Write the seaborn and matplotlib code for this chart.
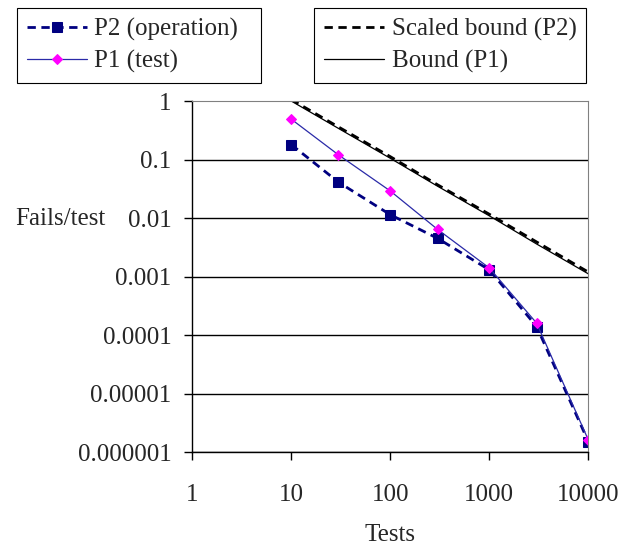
import matplotlib
matplotlib.use("Agg")
import matplotlib.pyplot as plt
import seaborn as sns
import pandas as pd
from matplotlib.ticker import FixedLocator, NullLocator

# values
tests = [10, 30, 100, 300, 1000, 3000, 10000]
p2_operation = [0.18, 0.041, 0.0114, 0.0045, 0.0013, 0.00014, 0.0000015]
p1_test = [0.49, 0.12, 0.029, 0.0064, 0.0014, 0.00016, 0.0000016]
scaled_bound_p2 = [1.06, 0.36, 0.112, 0.037, 0.0116, 0.0039, 0.00119]
bound_p1 = [1.0, 0.34, 0.105, 0.035, 0.0109, 0.0036, 0.00111]

x_ticks = [1, 10, 100, 1000, 10000]
x_labels = ["1", "10", "100", "1000", "10000"]
y_ticks = [1, 0.1, 0.01, 0.001, 0.0001, 0.00001, 0.000001]
y_labels = ["1", "0.1", "0.01", "0.001", "0.0001", "0.00001", "0.000001"]

sns.set_style("white")
plt.rcParams['font.family'] = ['Liberation Serif', 'DejaVu Serif']
plt.rcParams['font.size'] = 18
FS = 18

df = pd.DataFrame({
    "Tests": tests,
    "P2": p2_operation,
    "P1": p1_test,
    "SB": scaled_bound_p2,
    "B": bound_p1,
})

fig = plt.figure(figsize=(6.3, 5.46), dpi=100)
ax = fig.add_axes([0.305, 0.172, 0.629, 0.643])

sns.lineplot(data=df, x="Tests", y="SB", ax=ax, color="black",
             linestyle=(0, (3, 2)), linewidth=2.0, label="Scaled bound (P2)")
sns.lineplot(data=df, x="Tests", y="B", ax=ax, color="black",
             linewidth=0.9, label="Bound (P1)")
sns.lineplot(data=df, x="Tests", y="P2", ax=ax, color="#000080",
             linestyle=(0, (3, 2)), linewidth=2.0, marker="s", markersize=6.5,
             markeredgecolor="#000080", label="P2 (operation)")
sns.lineplot(data=df, x="Tests", y="P1", ax=ax, color="#2a2aa8",
             linewidth=0.9, marker="D", markersize=5.5, markerfacecolor="#ff00ff",
             markeredgecolor="#ff00ff", label="P1 (test)")

ax.set_xscale("log")
ax.set_yscale("log")
ax.set_xlim(1, 10000)
ax.set_ylim(0.000001, 1)

ax.xaxis.set_major_locator(FixedLocator(x_ticks))
ax.set_xticklabels(x_labels)
ax.xaxis.set_minor_locator(NullLocator())
ax.yaxis.set_major_locator(FixedLocator(y_ticks))
ax.set_yticklabels(y_labels)
ax.yaxis.set_minor_locator(NullLocator())

ax.tick_params(axis="both", direction="out", length=6, width=1, color="black",
               labelsize=FS)
ax.tick_params(axis="y", pad=9, left=True)
ax.tick_params(axis="x", pad=17, bottom=True)

for yv in y_ticks[1:]:
    ax.axhline(yv, color="black", linewidth=1, zorder=0)

ax.spines["left"].set_color("black")
ax.spines["bottom"].set_color("black")
ax.spines["left"].set_linewidth(1)
ax.spines["bottom"].set_linewidth(1)
ax.spines["top"].set_color("#808080")
ax.spines["right"].set_color("#808080")

ax.set_xlabel("Tests", fontsize=FS, labelpad=13)
ax.set_ylabel("Fails/test", fontsize=FS, rotation=0, ha="left", va="center")
ax.yaxis.set_label_coords(-0.447, 0.664)

handles, labels = ax.get_legend_handles_labels()
ax.get_legend().remove()
hmap = dict(zip(labels, handles))

leg_kw = dict(frameon=True, fancybox=False, framealpha=1, edgecolor="black",
              fontsize=FS, handlelength=2.4, handletextpad=0.3,
              labelspacing=0.36, borderpad=0.4, borderaxespad=0,
              mode="expand", loc="upper left")
leg1 = fig.legend([hmap["P2 (operation)"], hmap["P1 (test)"]],
                  ["P2 (operation)", "P1 (test)"],
                  bbox_to_anchor=(17 / 630, 1 - 8 / 546, 244 / 630, 0), **leg_kw)
leg2 = fig.legend([hmap["Scaled bound (P2)"], hmap["Bound (P1)"]],
                  ["Scaled bound (P2)", "Bound (P1)"],
                  bbox_to_anchor=(314 / 630, 1 - 8 / 546, 272 / 630, 0), **leg_kw)
for lg in (leg1, leg2):
    lg.get_frame().set_linewidth(0.8)

fig.savefig("out.png", dpi=100)
